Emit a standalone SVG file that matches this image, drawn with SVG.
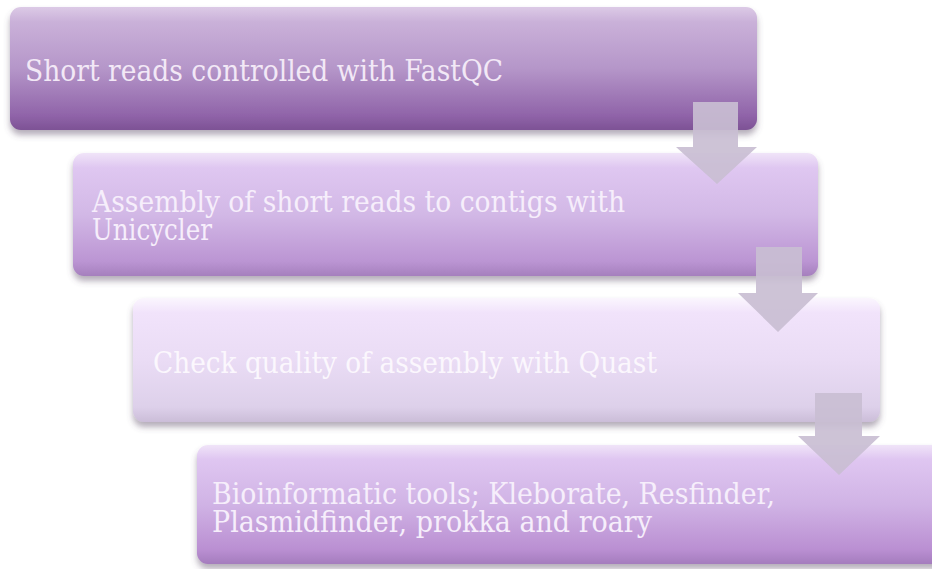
<svg xmlns="http://www.w3.org/2000/svg" width="932" height="569" viewBox="0 0 932 569">
  <defs>
    <linearGradient id="g1" x1="0" y1="0" x2="0" y2="1">
      <stop offset="0" stop-color="#dccae6"/>
      <stop offset="0.12" stop-color="#cab1d9"/>
      <stop offset="0.5" stop-color="#b596c9"/>
      <stop offset="0.88" stop-color="#9064a9"/>
      <stop offset="1" stop-color="#7d5295"/>
    </linearGradient>
    <linearGradient id="g2" x1="0" y1="0" x2="0" y2="1">
      <stop offset="0" stop-color="#f0e4f8"/>
      <stop offset="0.12" stop-color="#dfc7f1"/>
      <stop offset="0.5" stop-color="#d2b8e6"/>
      <stop offset="0.88" stop-color="#bb95d3"/>
      <stop offset="1" stop-color="#a57fbd"/>
    </linearGradient>
    <linearGradient id="g3" x1="0" y1="0" x2="0" y2="1">
      <stop offset="0" stop-color="#fbf6fe"/>
      <stop offset="0.12" stop-color="#f1e3fb"/>
      <stop offset="0.5" stop-color="#eadcf5"/>
      <stop offset="0.88" stop-color="#ddd0ea"/>
      <stop offset="1" stop-color="#cbbdd8"/>
    </linearGradient>
    <linearGradient id="g4" x1="0" y1="0" x2="0" y2="1">
      <stop offset="0" stop-color="#f0e4f8"/>
      <stop offset="0.12" stop-color="#dfc6f1"/>
      <stop offset="0.5" stop-color="#d0b3e5"/>
      <stop offset="0.88" stop-color="#ba8fd2"/>
      <stop offset="1" stop-color="#a47cbd"/>
    </linearGradient>
    <filter id="shadow" x="-5%" y="-10%" width="110%" height="130%">
      <feDropShadow dx="0" dy="5" stdDeviation="3" flood-color="#5a4a66" flood-opacity="0.45"/>
    </filter>
  </defs>
  <style>
    .box { filter: url(#shadow); }
    .label { font-family: "DejaVu Serif", "Liberation Serif", serif; font-size: 29px; }
    .arrow { fill: #c9bed3; fill-opacity: 0.92; }
  </style>

  <rect width="932" height="569" fill="#ffffff"/>

  <g id="step1">
    <rect class="box" x="10" y="7" width="747" height="123" rx="11" fill="url(#g1)"/>
    <text class="label" x="25" y="81" fill="#f2e8f6" textLength="478" lengthAdjust="spacingAndGlyphs">Short reads controlled with FastQC</text>
  </g>

  <g id="step2">
    <rect class="box" x="73" y="153" width="745" height="123" rx="11" fill="url(#g2)"/>
    <text class="label" fill="#f6eefb">
      <tspan x="92" y="212" textLength="533" lengthAdjust="spacingAndGlyphs">Assembly of short reads to contigs with</tspan>
      <tspan x="92" y="240" textLength="120" lengthAdjust="spacingAndGlyphs">Unicycler</tspan>
    </text>
  </g>

  <g id="step3">
    <rect class="box" x="133" y="298" width="747" height="124" rx="11" fill="url(#g3)"/>
    <text class="label" x="153" y="373" fill="#fbf7fd" textLength="504" lengthAdjust="spacingAndGlyphs">Check quality of assembly with Quast</text>
  </g>

  <g id="step4">
    <rect class="box" x="197" y="445" width="750" height="119" rx="11" fill="url(#g4)"/>
    <text class="label" fill="#f6eefb">
      <tspan x="212" y="504" textLength="563" lengthAdjust="spacingAndGlyphs">Bioinformatic tools; Kleborate, Resfinder,</tspan>
      <tspan x="212" y="532" textLength="440" lengthAdjust="spacingAndGlyphs">Plasmidfinder, prokka and roary</tspan>
    </text>
  </g>

  <g id="connectors">
    <path class="arrow" d="M693,102 H738 V147 H757 L717,184 L676,147 H693 Z"/>
    <path class="arrow" d="M756,247 H802 V293 H818 L778,332 L738,293 H756 Z"/>
    <path class="arrow" d="M815,393 H862 V436 H880 L839,475 L798,436 H815 Z"/>
  </g>
</svg>
